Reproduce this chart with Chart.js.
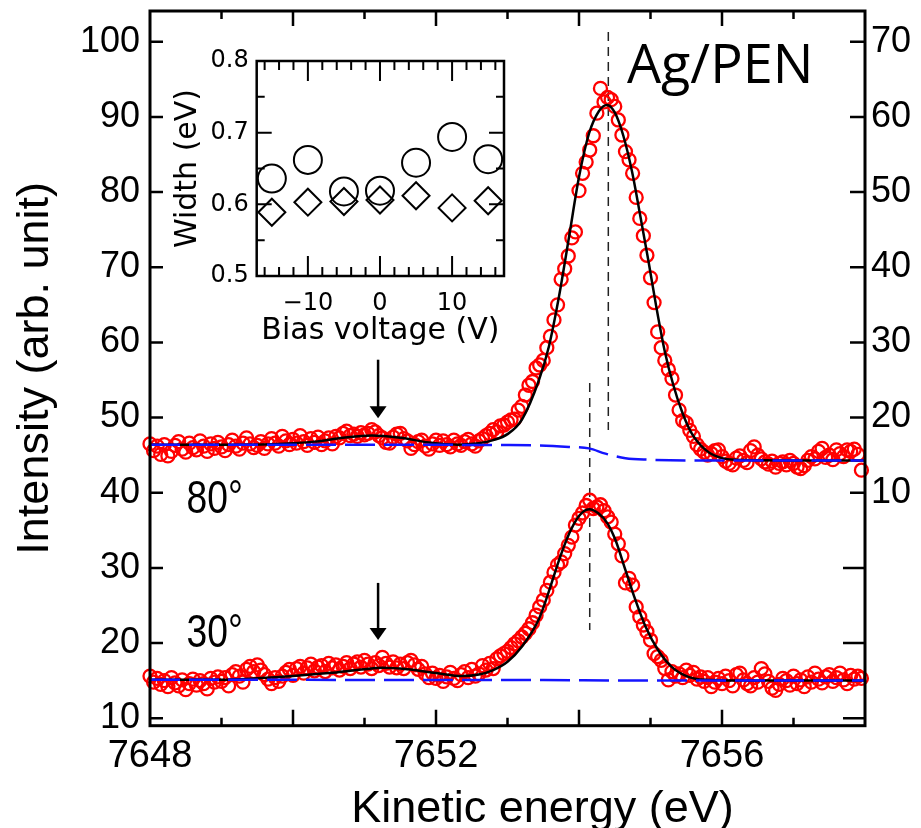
<!DOCTYPE html>
<html><head><meta charset="utf-8">
<script src="https://cdn.jsdelivr.net/npm/chart.js@4.4.1/dist/chart.umd.min.js"></script>
<style>
html,body{margin:0;padding:0;background:#fff;}
#wrap{position:relative;width:921px;height:828px;overflow:hidden;background:#fff;}
#main{position:absolute;left:0;top:0;}
#inset{position:absolute;left:160px;top:40px;}
</style></head><body>
<div id="wrap"><canvas id="main" width="921" height="828"></canvas><canvas id="inset" width="360" height="315"></canvas></div>
<script>
// ---------------- data ----------------
const ENERGY_START = 7648, ENERGY_STEP = 0.05;   // sampling grid of the spectra (eV)
// 80 deg spectrum, right-axis units
const counts80 = [
16.5,15.6,16.2,15.1,16.4,14.9,15.5,16.3,16.8,15.8,
15.4,16.6,16.0,15.7,16.9,16.2,15.5,16.5,15.9,16.7,
16.1,15.6,16.4,17.0,16.2,15.8,16.6,17.3,16.5,16.0,
16.3,16.8,15.9,16.5,17.2,16.6,16.2,17.5,16.9,16.4,
17.1,16.6,17.6,16.8,16.3,17.2,16.7,17.4,16.4,16.9,
17.3,16.5,17.5,17.3,17.9,18.2,17.6,17.8,17.5,18.0,
17.7,17.9,18.4,18.1,17.6,17.3,16.7,16.6,17.4,17.8,
17.9,17.2,16.9,15.9,16.4,16.8,17.0,16.2,15.8,16.5,
17.0,16.3,16.9,16.4,16.1,17.0,16.5,16.3,16.8,17.1,
16.5,16.2,16.9,17.2,17.6,17.9,18.4,18.1,18.9,19.0,
19.4,19.7,19.8,21.0,21.5,23.0,24.3,24.8,26.6,27.0,
27.6,29.3,30.8,33.0,35.0,38.4,39.8,41.5,43.9,44.7,
50.2,52.5,54.0,55.6,57.5,60.5,63.8,62.0,62.6,62.3,
61.4,59.6,57.6,55.4,54.3,52.5,49.3,46.5,44.2,41.6,
38.6,35.3,31.4,29.3,27.6,26.4,25.2,23.0,21.0,19.6,
19.3,18.3,17.5,16.4,15.8,15.4,15.0,15.2,15.6,15.7,
14.8,14.2,13.9,13.7,14.6,14.9,14.3,14.0,15.6,16.1,
15.0,14.5,14.1,13.8,14.2,13.4,13.9,14.1,13.7,14.3,
13.9,13.4,13.2,13.6,14.3,14.8,14.5,15.5,15.9,14.7,
15.0,14.4,15.7,15.2,14.8,15.7,15.5,15.8,15.1,13.0];
// 30 deg spectrum, left-axis units
const counts30 = [
15.6,14.8,15.3,14.5,15.0,14.2,15.4,14.7,14.3,15.1,
13.8,14.6,15.2,14.4,15.0,14.6,13.9,15.3,14.8,15.5,
14.9,15.4,14.3,15.8,16.2,15.6,14.8,16.5,16.9,16.2,
17.1,16.4,15.8,15.2,14.6,15.4,14.9,15.6,16.1,16.5,
15.7,16.6,16.9,16.0,16.7,17.2,16.3,16.8,17.0,16.2,
17.3,16.7,17.1,16.4,16.9,17.4,16.6,17.2,17.5,16.8,
17.7,17.2,16.6,17.4,17.0,18.1,17.3,16.8,17.5,16.7,
17.2,16.6,17.4,17.7,17.1,16.5,16.9,15.9,15.4,16.0,
15.3,15.7,14.9,15.5,16.1,15.3,15.0,15.8,16.2,15.4,
16.5,15.6,15.9,17.0,16.4,17.3,16.6,17.9,18.3,18.6,
18.9,19.4,19.9,20.3,20.8,21.3,21.9,22.7,23.7,24.8,
25.7,27.0,28.1,29.4,30.4,30.8,31.9,33.0,34.1,35.7,
36.6,37.3,38.3,39.0,37.9,38.1,38.4,37.6,36.8,36.1,
34.5,33.2,31.6,28.0,28.6,27.7,24.8,23.5,22.4,21.5,
20.4,18.6,18.2,17.7,16.6,15.1,16.2,15.6,15.9,15.4,
16.4,15.7,16.1,15.2,15.5,14.9,15.4,14.2,14.8,15.3,
14.6,15.6,15.0,14.3,15.8,16.0,15.1,14.6,14.3,15.4,
14.8,16.6,15.9,14.9,14.0,13.7,14.5,15.3,15.0,14.4,
15.6,14.6,15.1,14.2,15.5,14.8,16.0,15.2,14.7,15.5,
15.8,14.9,15.4,16.0,15.1,14.6,15.7,15.2,15.6,15.3];
const energyGrid = counts80.map((_, i) => Math.round((ENERGY_START + i * ENERGY_STEP) * 100) / 100);

// fitted curves (black) and backgrounds (blue dashed)
const fit80E = [7648,7649,7649.8,7650.3,7650.7,7651.1,7651.5,7651.9,7652.3,7652.6,7652.8,7653.0,7653.2,7653.44,7653.58,7653.72,7653.86,7654.0,7654.14,7654.28,7654.39,7654.5,7654.62,7654.74,7654.86,7654.97,7655.08,7655.2,7655.32,7655.44,7655.57,7655.77,7656.0,7656.3,7657.0,7658.0];
const fit80I = [16.4,16.4,16.5,16.8,17.3,17.6,17.3,16.7,16.4,16.6,17.0,17.8,19.7,25.0,29.5,36.1,44.0,52.0,57.8,60.8,61.6,60.6,57.5,52.8,46.7,40.9,34.8,28.8,24.3,20.8,18.0,15.7,14.6,14.35,14.3,14.3];
const fit30E = [7648,7649,7649.5,7650.0,7650.5,7651.0,7651.25,7651.6,7652.0,7652.37,7652.6,7652.8,7653.0,7653.2,7653.44,7653.58,7653.72,7653.86,7654.0,7654.14,7654.28,7654.4,7654.51,7654.65,7654.79,7654.93,7655.11,7655.3,7655.53,7655.76,7656.2,7658];
const fit30I = [15.1,15.1,15.3,15.6,16.0,16.5,16.7,16.5,16.0,15.6,15.8,16.4,17.5,19.5,23.2,26.9,31.0,34.5,36.9,37.8,37.2,35.9,33.7,29.7,25.7,22.2,19.0,16.8,15.5,15.1,15.0,15.0];
const bg80E = [7648,7653.0,7653.44,7653.86,7654.14,7654.37,7654.65,7654.97,7655.5,7658];
const bg80I = [16.4,16.35,16.3,16.1,15.9,15.2,14.6,14.4,14.3,14.3];
const bg30E = [7648,7653.5,7654.5,7658];
const bg30I = [15.1,15.08,15.02,15.0];

// axes
const xTickLabels = [7648, 7652, 7656];
const xTickMarks = [7649,7650,7651,7652,7653,7654,7655,7656,7657];
const xMajorMarks = [7650,7652,7654,7656];
const yLeftTicks = [10,20,30,40,50,60,70,80,90,100];
const yRightTicks = [-20,-10,0,10,20,30,40,50,60,70];
const yRightLabelled = [10,20,30,40,50,60,70];

// annotations (left-axis units)
const peakE = [7654.41, 7654.15];
const peakTop = [101.3, 54.6];
const peakBottom = [48.35, 21.75];
const arrowE = [7651.19, 7651.19];
const arrowTop = [57.7, 28.0];
const arrowTip = [49.9, 20.4];
const angleText = ['80\u00b0', '30\u00b0'];
const angleE = [7648.51, 7648.51];
const angleV = [37.3, 19.5];

// inset
const biasV = [-15, -10, -5, 0, 5, 10, 15];
const widthCircle = [0.636, 0.662, 0.618, 0.619, 0.658, 0.694, 0.663];
const widthDiamond = [0.589, 0.603, 0.604, 0.606, 0.612, 0.595, 0.605];
const insetXTicks = [-10, 0, 10];
const insetXMinor = [-16,-14,-12,-8,-6,-4,-2,2,4,6,8,12,14,16];
const insetYTicks = [0.5, 0.6, 0.7, 0.8];
const insetYMinor = [0.55, 0.65, 0.75];

// ---------------- chart ----------------
Chart.defaults.font.family = 'Liberation Sans';
Chart.defaults.color = '#000';
const pts = (xs, ys) => xs.map((v, i) => ({x: v, y: ys[i]}));
const zeroPad = s => { s.paddingTop = 0; s.paddingBottom = 0; s.paddingLeft = 0; s.paddingRight = 0; };

const mainDecor = {
  id: 'mainDecor',
  beforeDatasetsDraw(chart) {
    const {ctx, scales: {x, y}} = chart;
    ctx.save();
    ctx.strokeStyle = '#222'; ctx.lineWidth = 1.5; ctx.setLineDash([9, 6]);
    peakE.forEach((e, i) => {
      const px = x.getPixelForValue(e);
      ctx.beginPath(); ctx.moveTo(px, y.getPixelForValue(peakTop[i])); ctx.lineTo(px, y.getPixelForValue(peakBottom[i])); ctx.stroke();
    });
    ctx.restore();
  },
  afterDraw(chart) {
    const {ctx, chartArea: a, scales: {x, y, y2}} = chart;
    ctx.save();
    ctx.fillStyle = '#000'; ctx.strokeStyle = '#000';
    arrowE.forEach((e, i) => {
      const px = x.getPixelForValue(e), top = y.getPixelForValue(arrowTop[i]), tip = y.getPixelForValue(arrowTip[i]);
      const head = 12, half = 8.5;
      ctx.lineWidth = 2.5;
      ctx.beginPath(); ctx.moveTo(px, top); ctx.lineTo(px, tip - head + 1); ctx.stroke();
      ctx.beginPath(); ctx.moveTo(px - half, tip - head); ctx.lineTo(px + half, tip - head); ctx.lineTo(px, tip); ctx.closePath(); ctx.fill();
    });
    ctx.lineWidth = 2.5;
    ctx.beginPath();
    xTickMarks.forEach(e => {
      const px = x.getPixelForValue(e);
      const major = xMajorMarks.includes(e);
      ctx.moveTo(px, a.bottom); ctx.lineTo(px, a.bottom - (major ? 16 : 8));
      ctx.moveTo(px, a.top); ctx.lineTo(px, a.top + (major ? 15 : 8));
    });
    yLeftTicks.forEach(v => { const py = y.getPixelForValue(v); ctx.moveTo(a.left, py); ctx.lineTo(a.left + 13, py); });
    yRightTicks.forEach(v => { const py = y2.getPixelForValue(v); ctx.moveTo(a.right, py); ctx.lineTo(a.right - (yRightLabelled.includes(v) ? 15 : 22), py); });
    ctx.stroke();
    ctx.lineWidth = 3;
    ctx.strokeRect(a.left, a.top, a.right - a.left, a.bottom - a.top);
    // texts
    ctx.textAlign = 'left'; ctx.textBaseline = 'alphabetic';
    ctx.font = '46px "Liberation Sans"';
    angleText.forEach((t, i) => {
      ctx.save();
      ctx.translate(x.getPixelForValue(angleE[i]), y.getPixelForValue(angleV[i]));
      ctx.scale(0.81, 1);
      ctx.fillText(t, 0, 0);
      ctx.restore();
    });
    ctx.font = '54px "Open Sans"';
    ctx.fillText('Ag/PEN', x.getPixelForValue(7654.67), y.getPixelForValue(94.5));
    ctx.textAlign = 'center';
    ctx.font = '45px "Liberation Sans"';
    ctx.fillText('Kinetic energy (eV)', (a.left + a.right) / 2 + 35, 822);
    ctx.restore();
  }
};

new Chart(document.getElementById('main'), {
  type: 'scatter',
  data: {
    datasets: [
      {data: pts(bg80E, bg80I), yAxisID: 'y2', showLine: true, borderColor: '#1414ff', borderWidth: 2.5, borderDash: [30, 9], pointRadius: 0, cubicInterpolationMode: 'monotone', order: 0, clip: false},
      {data: pts(bg30E, bg30I), yAxisID: 'y', showLine: true, borderColor: '#1414ff', borderWidth: 2.5, borderDash: [30, 9], pointRadius: 0, cubicInterpolationMode: 'monotone', order: 0, clip: false},
      {data: pts(fit80E, fit80I), yAxisID: 'y2', showLine: true, borderColor: '#000', borderWidth: 2.5, pointRadius: 0, cubicInterpolationMode: 'monotone', order: 1, clip: false},
      {data: pts(fit30E, fit30I), yAxisID: 'y', showLine: true, borderColor: '#000', borderWidth: 2.5, pointRadius: 0, cubicInterpolationMode: 'monotone', order: 1, clip: false},
      {data: pts(energyGrid, counts80), yAxisID: 'y2', showLine: false, pointStyle: 'circle', pointRadius: 6.5, pointBorderWidth: 2.3, borderColor: '#ff0000', pointBorderColor: '#ff0000', pointBackgroundColor: 'rgba(0,0,0,0)', order: 2, clip: false},
      {data: pts(energyGrid, counts30), yAxisID: 'y', showLine: false, pointStyle: 'circle', pointRadius: 6.5, pointBorderWidth: 2.3, borderColor: '#ff0000', pointBorderColor: '#ff0000', pointBackgroundColor: 'rgba(0,0,0,0)', order: 2, clip: false}
    ]
  },
  options: {
    responsive: false, animation: false, devicePixelRatio: 1, events: [],
    layout: {padding: {top: 11, left: 0, right: 0, bottom: 0}},
    plugins: {legend: {display: false}, tooltip: {enabled: false}},
    scales: {
      x: {type: 'linear', position: 'bottom', min: 7648, max: 7658,
        afterBuildTicks: s => { s.ticks = xTickLabels.map(v => ({value: v})); },
        ticks: {font: {size: 38}, padding: 8, autoSkip: false, maxRotation: 0, callback: v => String(v)},
        grid: {display: false, drawTicks: false}, border: {display: false},
        afterFit: s => { s.height = 102.3; zeroPad(s); }},
      y: {type: 'linear', position: 'left', min: 9, max: 104.1,
        afterBuildTicks: s => { s.ticks = yLeftTicks.map(v => ({value: v})); },
        ticks: {font: {size: 36}, padding: 10, callback: v => String(v)},
        title: {display: true, text: 'Intensity (arb. unit)', font: {size: 45}, padding: {top: 9, bottom: 0}},
        grid: {display: false, drawTicks: false}, border: {display: false},
        afterFit: s => { s.width = 150; zeroPad(s); }},
      y2: {type: 'linear', position: 'right', min: -21, max: 74.1,
        afterBuildTicks: s => { s.ticks = yRightLabelled.map(v => ({value: v})); },
        ticks: {font: {size: 36}, padding: 6, callback: v => String(v)},
        grid: {display: false, drawTicks: false}, border: {display: false},
        afterFit: s => { s.width = 56; zeroPad(s); }}
    }
  },
  plugins: [mainDecor]
});

const insetDecor = {
  id: 'insetDecor',
  afterDraw(chart) {
    const {ctx, chartArea: a, scales: {x, y}} = chart;
    ctx.save();
    ctx.strokeStyle = '#000'; ctx.lineWidth = 2;
    ctx.beginPath();
    insetXTicks.concat(insetXMinor).forEach(v => {
      const px = x.getPixelForValue(v), L = insetXTicks.includes(v) ? 20 : 9;
      ctx.moveTo(px, a.bottom); ctx.lineTo(px, a.bottom - L);
      ctx.moveTo(px, a.top); ctx.lineTo(px, a.top + L);
    });
    insetYTicks.concat(insetYMinor).forEach(v => {
      const py = y.getPixelForValue(v), L = insetYTicks.includes(v) ? 15 : 8;
      ctx.moveTo(a.left, py); ctx.lineTo(a.left + L, py);
      ctx.moveTo(a.right, py); ctx.lineTo(a.right - L, py);
    });
    ctx.stroke();
    ctx.lineWidth = 2.5;
    ctx.strokeRect(a.left, a.top, a.right - a.left, a.bottom - a.top);
    ctx.restore();
  }
};

new Chart(document.getElementById('inset'), {
  type: 'scatter',
  data: {
    datasets: [
      {data: pts(biasV, widthCircle), pointStyle: 'circle', pointRadius: 14, pointBorderWidth: 2, pointBorderColor: '#000', pointBackgroundColor: 'rgba(0,0,0,0)', clip: false},
      {data: pts(biasV, widthDiamond), pointStyle: 'rectRot', pointRadius: 13.5, pointBorderWidth: 2, pointBorderColor: '#000', pointBackgroundColor: 'rgba(0,0,0,0)', clip: false}
    ]
  },
  options: {
    responsive: false, animation: false, devicePixelRatio: 1, events: [],
    layout: {padding: {top: 21, right: 11.7, left: 0, bottom: 0}},
    plugins: {legend: {display: false}, tooltip: {enabled: false}},
    scales: {
      x: {type: 'linear', position: 'bottom', min: -17.1, max: 17.2,
        afterBuildTicks: s => { s.ticks = insetXTicks.map(v => ({value: v})); },
        ticks: {font: {family: 'DejaVu Sans', size: 24}, padding: 13, autoSkip: false, maxRotation: 0,
          callback: v => v < 0 ? '\u2212' + Math.abs(v) : String(v)},
        title: {display: true, text: 'Bias voltage (V)', font: {family: 'DejaVu Sans', size: 30}, padding: {top: 0, bottom: 6}},
        grid: {display: false, drawTicks: false}, border: {display: false},
        afterFit: s => { s.height = 79; zeroPad(s); }},
      y: {type: 'linear', position: 'left', min: 0.5, max: 0.8,
        afterBuildTicks: s => { s.ticks = insetYTicks.map(v => ({value: v})); },
        ticks: {font: {family: 'DejaVu Sans', size: 24}, padding: 8, callback: v => v.toFixed(1)},
        title: {display: true, text: 'Width (eV)', font: {family: 'DejaVu Sans', size: 30}, padding: {top: 10, bottom: 0}},
        grid: {display: false, drawTicks: false}, border: {display: false},
        afterFit: s => { s.width = 96.7; zeroPad(s); }}
    }
  },
  plugins: [insetDecor]
});
</script>
</body></html>
